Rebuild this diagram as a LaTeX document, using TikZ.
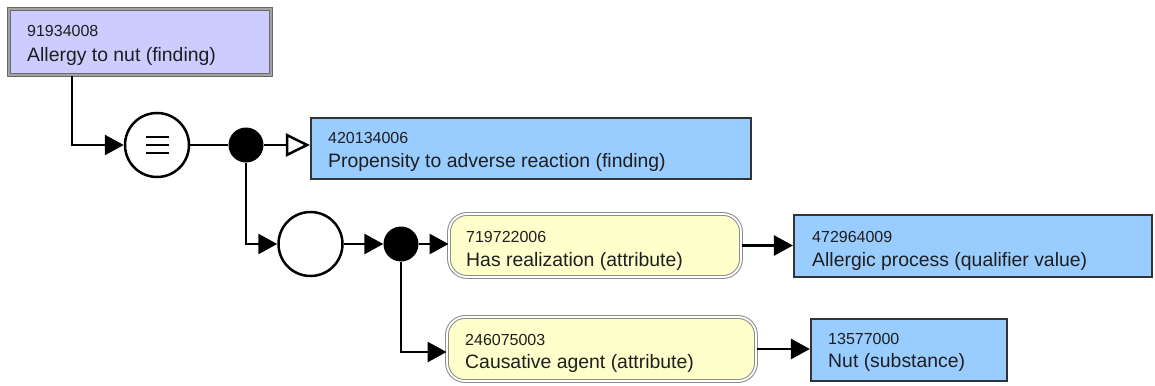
\documentclass[tikz,border=0pt]{standalone}
\usepackage{fontspec}
\setmainfont{Liberation Sans}
\usetikzlibrary{arrows.meta}
\definecolor{lav}{HTML}{CCCCFF}
\definecolor{sky}{HTML}{99CCFF}
\definecolor{cream}{HTML}{FFFFCC}
\definecolor{txt}{HTML}{1E1E1E}
\definecolor{edge}{HTML}{333333}
\definecolor{frame}{HTML}{8C8C8C}
\begin{document}
\begin{tikzpicture}[x=1pt,y=-1pt,
  primbox/.style={draw=frame!75!black, double=frame!80, double distance=2pt, line width=1pt, fill=lav, inner sep=0pt},
  conceptbox/.style={draw=edge, line width=2.2pt, fill=sky, inner sep=0pt},
  attrbox/.style={draw=frame, double=white, double distance=1.8pt, line width=1pt, fill=cream, rounded corners=18pt, inner sep=0pt},
  subtxt/.style={anchor=base west, inner sep=0pt, font=\fontsize{16}{18}\selectfont, text=txt},
  maintxt/.style={anchor=base west, inner sep=0pt, font=\fontsize{19.4}{22}\selectfont, text=txt},
  opcircle/.style={circle, draw=black, line width=2.5pt, fill=white, minimum size=64pt, inner sep=0pt},
  blackdot/.style={circle, fill=black, minimum size=35pt, inner sep=0pt},
  arr/.style={-{Triangle[length=19pt,width=20pt]}, line width=2.8pt},
  isa/.style={-{Triangle[open,length=24pt,width=23pt,fill=white]}, line width=2.5pt},
  plain/.style={line width=2.8pt}
]
\useasboundingbox (0,0) rectangle (1155,385);

% boxes
\node[primbox, minimum width=262pt, minimum height=66pt] (b1) at (139.5,42.5) {};
\node[subtxt] (b1id) at (27,37) {91934008};
\node[maintxt] (b1lab) at (27,62) {Allergy to nut (finding)};

\node[conceptbox, minimum width=440pt, minimum height=61pt] (b2) at (531,148.5) {};
\node[subtxt] (b2id) at (328,143) {420134006};
\node[maintxt] (b2lab) at (328,167) {Propensity to adverse reaction (finding)};

\node[attrbox, minimum width=292pt, minimum height=63pt] (y1) at (595,245.5) {};
\node[subtxt] (y1id) at (466,242) {719722006};
\node[maintxt] (y1lab) at (466,266) {Has realization (attribute)};

\node[conceptbox, minimum width=358pt, minimum height=62pt] (b3) at (973,246) {};
\node[subtxt] (b3id) at (812,242) {472964009};
\node[maintxt] (b3lab) at (812,266) {Allergic process (qualifier value)};

\node[attrbox, minimum width=309pt, minimum height=64pt] (y2) at (601.5,349) {};
\node[subtxt] (y2id) at (465,345) {246075003};
\node[maintxt] (y2lab) at (465,368) {Causative agent (attribute)};

\node[conceptbox, minimum width=196pt, minimum height=62pt] (b4) at (909,350) {};
\node[subtxt] (b4id) at (828,344) {13577000};
\node[maintxt] (b4lab) at (828,367) {Nut (substance)};

% operators
\node[opcircle] (eq) at (157,145) {};
\foreach \dy in {-8,0,8}
  \draw[line width=2.4pt] ([shift={(-11.5,\dy)}]eq.center) -- ([shift={(11.5,\dy)}]eq.center);
\node[blackdot] (d1) at (246,145) {};
\node[opcircle] (c2) at (310.5,244) {};
\node[blackdot] (d2) at (401,244) {};

% connectors
\draw[arr] ([xshift=-67.5pt]b1.south) |- (eq);
\draw[plain] (eq) -- (d1);
\draw[isa] (d1) -- (b2.west |- d1);
\draw[arr] (d1) |- (c2);
\draw[arr] (c2) -- (d2);
\draw[arr] (d2) -- (y1.west |- d2);
\draw[arr] (d2) |- (y2.west |- 0,352);
\draw[arr] (y1) -- (b3.west |- y1);
\draw[arr] (y2) -- (b4.west |- y2);
\end{tikzpicture}
\end{document}
